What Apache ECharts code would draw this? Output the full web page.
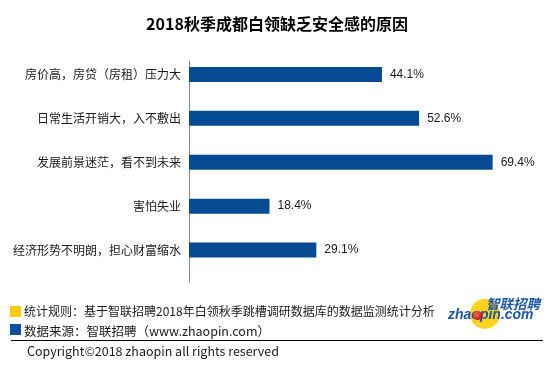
<!DOCTYPE html>
<html>
<head>
<meta charset="utf-8">
<script src="https://cdn.jsdelivr.net/npm/echarts@6/dist/echarts.min.js"></script>
<style>html,body{margin:0;padding:0;background:#fff;}#c{width:554px;height:367px;}</style>
</head>
<body>
<div id="c"></div>
<script>
var titleText = '2018秋季成都白领缺乏安全感的原因';
var categories = ['房价高，房贷（房租）压力大', '日常生活开销大，入不敷出', '发展前景迷茫，看不到未来', '害怕失业', '经济形势不明朗，担心财富缩水'];
var values = [44.1, 52.6, 69.4, 18.4, 29.1];
var noteRule = '统计规则：基于智联招聘2018年白领秋季跳槽调研数据库的数据监测统计分析';
var noteSource = '数据来源：智联招聘（www.zhaopin.com）';
var copyrightText = 'Copyright©2018 zhaopin all rights reserved';

var CJK = '"Noto Sans CJK SC", "Noto Sans", sans-serif';
var chart = echarts.init(document.getElementById('c'), null, {renderer: 'canvas'});
chart.setOption({
  animation: false,
  backgroundColor: '#ffffff',
  title: {
    text: titleText, left: 'center', top: 11,
    textStyle: {fontFamily: CJK, fontSize: 16, fontWeight: 'bold', color: '#000'}
  },
  grid: [
    {left: 189, top: 52.5, height: 219.5, width: 350},
    {left: 189, top: 61, height: 221, width: 10}
  ],
  xAxis: [
    {gridIndex: 0, type: 'value', min: 0, max: 80, show: false},
    {gridIndex: 1, type: 'value', min: 0, max: 1, show: false}
  ],
  yAxis: [
    {gridIndex: 0, type: 'category', data: categories, inverse: true,
     axisLine: {show: false}, axisTick: {show: false},
     axisLabel: {margin: 8, fontFamily: CJK, fontSize: 12, color: '#1a1a1a'}},
    {gridIndex: 1, type: 'value', min: 0, max: 1, position: 'left',
     axisLine: {show: true, onZero: false, lineStyle: {color: '#868686', width: 1}},
     axisTick: {show: false}, axisLabel: {show: false}, splitLine: {show: false}}
  ],
  series: [{
    type: 'bar', xAxisIndex: 0, yAxisIndex: 0, data: values, barWidth: 15,
    itemStyle: {color: '#064a93'},
    label: {show: true, position: 'right', distance: 8,
      formatter: function(p){ return p.value.toFixed(1) + '%'; },
      fontFamily: '"Liberation Sans", Arial, sans-serif', fontSize: 12, color: '#1a1a1a'}
  }],
  graphic: [
    {type: 'rect', shape: {x: 10, y: 306, width: 11, height: 11}, style: {fill: '#ffcc00'}},
    {type: 'rect', shape: {x: 10, y: 324, width: 11, height: 11}, style: {fill: '#0b4ea2'}},
    {type: 'text', x: 24, y: 311, style: {text: noteRule, font: '12px ' + CJK, fill: '#1a1a1a', textVerticalAlign: 'middle'}},
    {type: 'text', x: 24, y: 331, style: {text: noteSource, font: '12.5px ' + CJK, fill: '#1a1a1a', textVerticalAlign: 'middle'}},
    {type: 'line', shape: {x1: 11, y1: 340.5, x2: 543, y2: 340.5}, style: {stroke: '#000', lineWidth: 1}},
    {type: 'text', x: 27, y: 351, style: {text: copyrightText, font: '12.5px ' + CJK, fill: '#1a1a1a', textVerticalAlign: 'middle'}},
    {type: 'circle', shape: {cx: 485, cy: 314, r: 15}, style: {fill: '#ffd21f'}},
    {type: 'text', x: 486, y: 304, style: {text: '智联招聘', font: 'italic bold 13.5px ' + CJK, fill: '#1d57a8', textVerticalAlign: 'middle'}},
    {type: 'text', x: 448, y: 315, style: {text: 'zhaopin.com', font: 'italic bold 14px "Liberation Sans", Arial, sans-serif', fill: '#1d57a8', textVerticalAlign: 'middle'}},
    {type: 'circle', shape: {cx: 477.5, cy: 315.5, r: 4.5}, style: {fill: new echarts.graphic.RadialGradient(0.35, 0.35, 0.7, [{offset: 0, color: '#ff6a5a'}, {offset: 1, color: '#c4120e'}])}}
  ]
});
</script>
</body>
</html>
